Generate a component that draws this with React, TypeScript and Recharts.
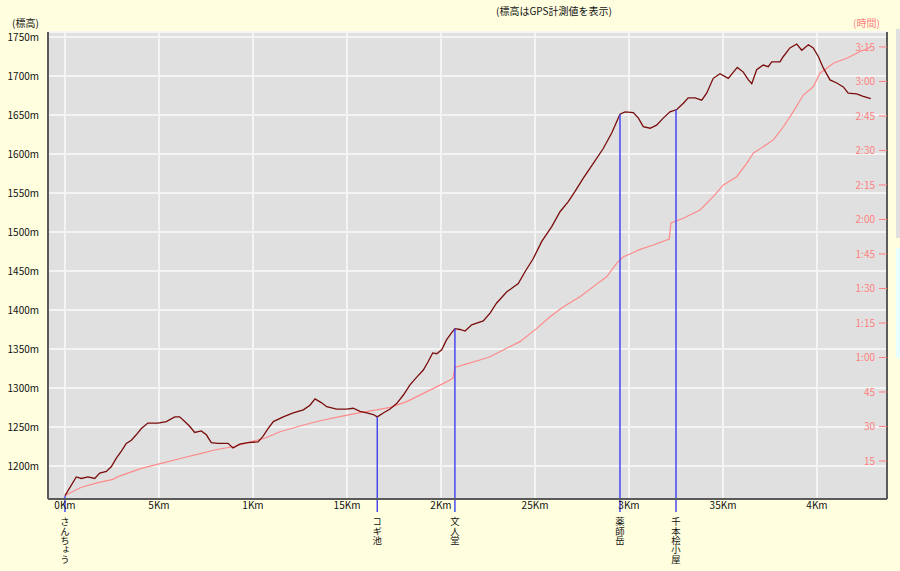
import React from 'react';
import { LineChart, Line, XAxis, YAxis, CartesianGrid, ReferenceLine } from 'recharts';

// elevation profile (km from start, metres)
const elevKm = [
  0, 0.06, 0.087, 0.122, 0.158, 0.185, 0.22, 0.246, 0.273, 0.3,
  0.326, 0.353, 0.379, 0.406, 0.441, 0.495, 0.539, 0.584, 0.61, 0.637,
  0.663, 0.69, 0.725, 0.752, 0.778, 0.814, 0.867, 0.894, 0.929, 0.973,
  1.027, 1.053, 1.08, 1.108, 1.161, 1.214, 1.268, 1.303, 1.33, 1.365,
  1.392, 1.445, 1.498, 1.533, 1.569, 1.605, 1.64, 1.661, 1.693, 1.729,
  1.764, 1.8, 1.835, 1.871, 1.906, 1.932, 1.956, 1.977, 2.004, 2.03,
  2.057, 2.074, 2.101, 2.128, 2.163, 2.225, 2.261, 2.296, 2.349, 2.411,
  2.447, 2.491, 2.536, 2.589, 2.633, 2.677, 2.713, 2.757, 2.81, 2.863,
  2.908, 2.952, 2.979, 3.023, 3.05, 3.076, 3.112, 3.147, 3.182, 3.218,
  3.254, 3.289, 3.315, 3.351, 3.387, 3.413, 3.448, 3.484, 3.528, 3.555,
  3.576, 3.608, 3.635, 3.653, 3.679, 3.714, 3.741, 3.759, 3.803, 3.821,
  3.856, 3.892, 3.919, 3.954, 3.98, 4.007, 4.034, 4.069, 4.105, 4.14,
  4.166, 4.211, 4.246, 4.286,
];
const elevM = [
  1162, 1186, 1184, 1186, 1184, 1191, 1193, 1199, 1210, 1219,
  1229, 1233, 1240, 1248, 1255, 1255, 1257, 1263, 1263, 1257,
  1251, 1243, 1245, 1240, 1230, 1229, 1229, 1223, 1228, 1230,
  1231, 1238, 1248, 1257, 1263, 1268, 1272, 1278, 1286, 1281,
  1276, 1273, 1273, 1274, 1270, 1268, 1266, 1263, 1268, 1273,
  1280, 1291, 1304, 1314, 1323, 1334, 1345, 1344, 1349, 1362,
  1371, 1376, 1375, 1373, 1381, 1386, 1396, 1409, 1423, 1434,
  1449, 1466, 1488, 1507, 1526, 1539, 1552, 1569, 1588, 1607,
  1627, 1651, 1654, 1653, 1646, 1635, 1633, 1637, 1646, 1654,
  1657, 1665, 1672, 1672, 1669, 1678, 1697, 1703, 1697, 1705,
  1711, 1705, 1695, 1690, 1708, 1714, 1712, 1718, 1718, 1725,
  1736, 1741, 1733, 1740, 1736, 1725, 1710, 1695, 1691, 1686,
  1678, 1677, 1674, 1671,
];

// elapsed time (km, minutes)
const timeKm = [
  0, 0.087, 0.176, 0.255, 0.282, 0.406, 0.512, 0.619, 0.725, 0.814,
  0.894, 0.973, 1.062, 1.144, 1.25, 1.356, 1.463, 1.569, 1.658, 1.729,
  1.818, 1.906, 1.995, 2.048, 2.064, 2.074, 2.137, 2.207, 2.261, 2.349,
  2.42, 2.5, 2.58, 2.651, 2.739, 2.81, 2.881, 2.935, 2.97, 3.014,
  3.059, 3.129, 3.214, 3.223, 3.289, 3.378, 3.448, 3.502, 3.573, 3.626,
  3.661, 3.768, 3.821, 3.874, 3.927, 3.98, 4.016, 4.087, 4.158, 4.229,
  4.286,
];
const timeMin = [
  0, 3.6, 5.6, 7.0, 8.2, 11.8, 14.0, 16.2, 18.3, 20.1,
  21.2, 23.0, 24.9, 27.7, 30.2, 32.5, 34.3, 36.0, 37.2, 38.3,
  40.8, 44.4, 48.0, 50.2, 51.1, 55.7, 57.2, 58.9, 60.3, 64.0,
  66.9, 72.0, 77.7, 82.1, 86.4, 90.8, 95.1, 101.0, 103.8, 105.3,
  107.0, 108.9, 111.5, 118.5, 120.5, 124.1, 129.9, 135.0, 138.6, 144.4,
  148.8, 154.6, 160.3, 166.9, 174.1, 177.7, 183.6, 187.9, 190.1, 193.0,
  195.0,
];

const distTicks = [0, 0.5, 1, 1.5, 2, 2.5, 3, 3.5, 4];
const distLabels = ['0Km', '5Km', '1Km', '15Km', '2Km', '25Km', '3Km', '35Km', '4Km'];
const elevTicks = [1200, 1250, 1300, 1350, 1400, 1450, 1500, 1550, 1600, 1650, 1700, 1750];
const timeTicks = [15, 30, 45, 60, 75, 90, 105, 120, 135, 150, 165, 180, 195];
const timeLabels = ['15', '30', '45', '1:00', '1:15', '1:30', '1:45', '2:00', '2:15', '2:30', '2:45', '3:00', '3:15'];

// waypoints
const markNames = ['さんちょう', 'コギ池', '文人堂', '薬師岳', '千本桧小屋'];
const markKm = [0, 1.661, 2.074, 2.952, 3.25];
const markM = [1162, 1263, 1376, 1651, 1657];

const elevData = elevKm.map((km, i) => ({ km, m: elevM[i] }));
const timeData = timeKm.map((km, i) => ({ km, min: timeMin[i] }));

const X_DOMAIN: [number, number] = [-0.0904, 4.3723];
const ELEV_DOMAIN: [number, number] = [1157.7, 1756.4];
const TIME_DOMAIN: [number, number] = [-1.52, 201.5];
const MARK_FLOOR = 1141;

const font = "'Noto Sans CJK JP', 'Noto Sans', sans-serif";
const border = { stroke: '#5a5a5a', strokeWidth: 2 };

// waypoint names written top-to-bottom under the axis
function MarkTick(props: any) {
  const { x, y, payload } = props;
  const i = markKm.indexOf(payload.value);
  const name = i >= 0 ? markNames[i] : '';
  return (
    <text
      x={x}
      y={y + 4}
      fontSize={9.4}
      fill="#111"
      fontFamily={font}
      style={{ writingMode: 'vertical-rl' } as React.CSSProperties}
    >
      {name}
    </text>
  );
}

export default function App() {
  return (
    <div style={{ position: 'absolute', left: 0, top: 0, width: 900, height: 571, background: '#ffffe0', fontFamily: font }}>
      <LineChart width={900} height={571} margin={{ top: 32, right: 13, bottom: 0, left: 8 }}>
        <CartesianGrid xAxisId="dist" yAxisId="elev" fill="#e0e0e0" fillOpacity={1} stroke="#f4f4f4" strokeWidth={2} />
        <XAxis
          xAxisId="dist"
          type="number"
          dataKey="km"
          domain={X_DOMAIN}
          allowDataOverflow
          ticks={distTicks}
          interval={0}
          height={14}
          tickSize={0}
          tickMargin={3}
          axisLine={border}
          tickFormatter={(v) => distLabels[distTicks.indexOf(v)]}
          tick={{ fontSize: 10, fill: '#111', fontFamily: font }}
        />
        <XAxis
          xAxisId="marks"
          type="number"
          dataKey="km"
          domain={X_DOMAIN}
          allowDataOverflow
          ticks={markKm}
          interval={0}
          height={58}
          tickSize={0}
          tickMargin={0}
          axisLine={false}
          tickLine={false}
          tick={<MarkTick />}
        />
        <XAxis
          xAxisId="top"
          orientation="top"
          type="number"
          dataKey="km"
          domain={X_DOMAIN}
          allowDataOverflow
          height={0}
          tick={false}
          tickLine={false}
          axisLine={border}
        />
        <YAxis
          yAxisId="elev"
          type="number"
          domain={ELEV_DOMAIN}
          allowDataOverflow
          ticks={elevTicks}
          interval={0}
          width={40}
          tickSize={0}
          tickMargin={9}
          axisLine={border}
          tickFormatter={(v) => `${v}m`}
          tick={{ fontSize: 10, fill: '#111', fontFamily: font }}
        />
        <YAxis
          yAxisId="time"
          orientation="right"
          mirror
          type="number"
          domain={TIME_DOMAIN}
          allowDataOverflow
          ticks={timeTicks}
          interval={0}
          tickSize={8}
          tickMargin={4}
          axisLine={border}
          tickLine={{ stroke: '#ff8080' }}
          tickFormatter={(v) => timeLabels[timeTicks.indexOf(v)]}
          tick={{ fontSize: 10, fill: '#ff8080', fontFamily: font }}
        />
        <Line
          xAxisId="dist"
          yAxisId="time"
          data={timeData}
          dataKey="min"
          type="linear"
          stroke="#ff8a8a"
          strokeWidth={1.2}
          dot={false}
          activeDot={false}
          isAnimationActive={false}
        />
        <Line
          xAxisId="dist"
          yAxisId="elev"
          data={elevData}
          dataKey="m"
          type="linear"
          stroke="#7a0c0c"
          strokeWidth={1.3}
          dot={false}
          activeDot={false}
          isAnimationActive={false}
        />
        {markKm.map((km, i) => (
          <ReferenceLine
            key={markNames[i]}
            xAxisId="dist"
            yAxisId="elev"
            segment={[{ x: km, y: markM[i] }, { x: km, y: MARK_FLOOR }]}
            stroke="#4848f0"
            strokeWidth={1.5}
            ifOverflow="visible"
          />
        ))}
      </LineChart>
      <div style={{ position: 'absolute', left: 496, top: 3, fontSize: 10, color: '#111', whiteSpace: 'nowrap' }}>
        (標高はGPS計測値を表示)
      </div>
      <div style={{ position: 'absolute', left: 12, top: 15, fontSize: 10, color: '#111', whiteSpace: 'nowrap' }}>
        (標高)
      </div>
      <div style={{ position: 'absolute', left: 853, top: 15, fontSize: 10, color: '#ff8080', whiteSpace: 'nowrap' }}>
        (時間)
      </div>
      <div style={{ position: 'absolute', left: 896, top: 29, width: 4, height: 209, background: '#e0e0e0' }} />
      <div style={{ position: 'absolute', left: 896, top: 248, width: 4, height: 110, background: '#e8ffff' }} />
    </div>
  );
}
